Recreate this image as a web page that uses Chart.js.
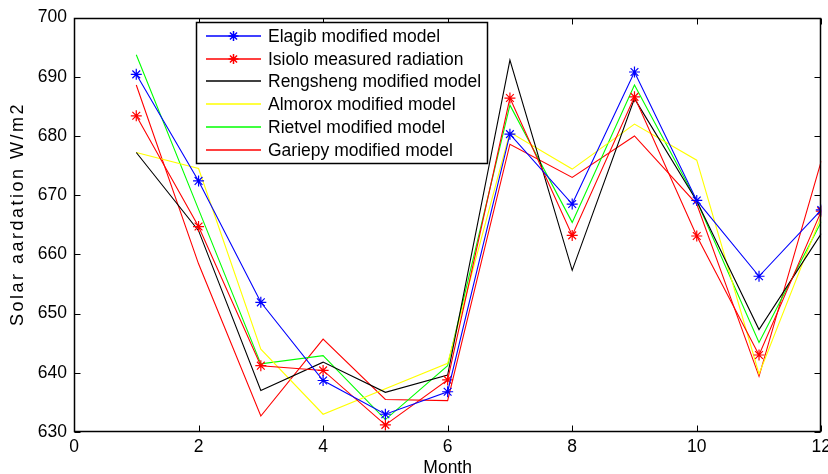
<!DOCTYPE html>
<html>
<head>
<meta charset="utf-8">
<script src="https://cdn.jsdelivr.net/npm/chart.js@4"></script>
<style>
  html, body { margin: 0; padding: 0; background: #fff; }
  #wrap { width: 828px; height: 474px; }
</style>
</head>
<body>
<div id="wrap"><canvas id="chart" width="828" height="474"></canvas></div>
<script>
// ====================== Data ======================
const MONTHS = [1, 2, 3, 4, 5, 6, 7, 8, 9, 10, 11, 12];

const ELAGIB    = [690.4, 672.4, 651.9, 638.7, 633.0, 636.8, 680.3, 668.5, 690.8, 669.1, 656.3, 667.5];
const ISIOLO    = [683.4, 664.7, 641.2, 640.4, 631.2, 638.8, 686.4, 663.2, 686.6, 663.1, 643.0, 667.3];
const RENGSHENG = [677.2, 664.0, 637.0, 641.8, 636.7, 639.6, 692.8, 657.3, 686.3, 669.0, 647.3, 663.5];
const ALMOROX   = [677.2, 674.5, 644.0, 633.0, 637.3, 641.6, 680.6, 674.4, 682.0, 675.9, 639.8, 666.5];
const RIETVEL   = [693.7, 667.6, 641.5, 642.9, 632.1, 641.2, 685.2, 665.4, 688.6, 669.0, 645.1, 665.5];
const GARIEPY   = [688.6, 658.4, 632.7, 645.7, 635.5, 635.3, 678.6, 673.0, 680.0, 668.5, 639.4, 675.8];

const SERIES_LABELS = [
  "Elagib modified model",
  "Isiolo measured radiation",
  "Rengsheng modified model",
  "Almorox modified model",
  "Rietvel modified model",
  "Gariepy modified model"
];

const X_TICKS = [0, 2, 4, 6, 8, 10, 12];
const Y_TICKS = [630, 640, 650, 660, 670, 680, 690, 700];
const X_TITLE = "Month";
const Y_TITLE = "Solar aardation W/m2";

const FONT = "'Liberation Sans', Arial, sans-serif";

// ====================== Helpers ======================
function toPoints(values) {
  return MONTHS.map((m, i) => ({ x: m, y: values[i] }));
}

function series(label, values, color, marker) {
  return {
    label,
    data: toPoints(values),
    borderColor: color,
    backgroundColor: color,
    borderWidth: 1.1,
    pointStyle: "star",
    pointRadius: marker ? 5.5 : 0,
    pointBorderWidth: 1.2,
    pointBorderColor: color,
    tension: 0,
    fill: false
  };
}

// ── frame with inward ticks on all four sides ──
const framePlugin = {
  id: "frame",
  afterDatasetsDraw(chart) {
    const { ctx, chartArea: a, scales } = chart;
    const L = Math.round(a.left) + 0.5, R = Math.round(a.right) - 0.5;
    const T = Math.round(a.top) + 0.5, B = Math.round(a.bottom) - 0.5;
    ctx.save();
    ctx.strokeStyle = "#000";
    ctx.lineWidth = 1;
    ctx.beginPath();
    X_TICKS.forEach(v => {
      const px = Math.round(scales.x.getPixelForValue(v)) + 0.5;
      ctx.moveTo(px, B); ctx.lineTo(px, B - 6);
      ctx.moveTo(px, T); ctx.lineTo(px, T + 6);
    });
    Y_TICKS.forEach(v => {
      const py = Math.round(scales.y.getPixelForValue(v)) + 0.5;
      ctx.moveTo(L, py); ctx.lineTo(L + 6, py);
      ctx.moveTo(R, py); ctx.lineTo(R - 6, py);
    });
    ctx.stroke();
    ctx.lineWidth = 1.5;
    ctx.strokeRect(L, T, R - L, B - T);
    ctx.restore();
  }
};

// ── MATLAB style legend box inside the plot ──
const boxLegendPlugin = {
  id: "boxLegend",
  afterDraw(chart) {
    const { ctx } = chart;
    const box = { x: 196.5, y: 22.5, w: 291, h: 141 };
    ctx.save();
    ctx.fillStyle = "#fff";
    ctx.fillRect(box.x, box.y, box.w, box.h);
    ctx.strokeStyle = "#000";
    ctx.lineWidth = 1.5;
    ctx.strokeRect(box.x, box.y, box.w, box.h);
    ctx.font = "17.5px " + FONT;
    ctx.textBaseline = "middle";
    chart.data.datasets.forEach((ds, i) => {
      const y = Math.round(36 + i * 22.7);
      ctx.strokeStyle = ds.borderColor;
      ctx.lineWidth = 1.5;
      ctx.beginPath();
      ctx.moveTo(206, y); ctx.lineTo(261, y);
      ctx.stroke();
      if (ds.pointRadius > 0) {
        Chart.helpers.drawPoint(ctx, {
          pointStyle: "star", radius: 5, borderWidth: 1
        }, 233.5, y);
      }
      ctx.fillStyle = "#000";
      ctx.fillText(ds.label, 268, y + 1);
    });
    ctx.restore();
  }
};

// ── rotated y axis title (MATLAB spreads the rotated glyphs) ──
const yTitlePlugin = {
  id: "yTitle",
  afterDraw(chart) {
    const ctx = chart.ctx;
    ctx.save();
    ctx.translate(18, 214);
    ctx.rotate(-Math.PI / 2);
    ctx.font = "18px " + FONT;
    ctx.letterSpacing = "2.5px";
    ctx.textAlign = "center";
    ctx.textBaseline = "middle";
    ctx.fillStyle = "#000";
    ctx.fillText(Y_TITLE, 0, 0);
    ctx.restore();
  }
};

// ====================== Chart ======================
Chart.defaults.font.family = FONT;
Chart.defaults.color = "#000";

new Chart(document.getElementById("chart"), {
  type: "line",
  data: {
    datasets: [
      series(SERIES_LABELS[0], ELAGIB, "#0000ff", true),
      series(SERIES_LABELS[1], ISIOLO, "#ff0000", true),
      series(SERIES_LABELS[2], RENGSHENG, "#000000", false),
      series(SERIES_LABELS[3], ALMOROX, "#ffff00", false),
      series(SERIES_LABELS[4], RIETVEL, "#00ff00", false),
      series(SERIES_LABELS[5], GARIEPY, "#ff0000", false)
    ]
  },
  options: {
    responsive: false,
    animation: false,
    devicePixelRatio: 1,
    layout: { padding: { top: 16, right: 6, left: 0, bottom: 0 } },
    plugins: { legend: { display: false }, tooltip: { enabled: false } },
    scales: {
      x: {
        type: "linear",
        min: 0, max: 12,
        afterBuildTicks: s => { s.ticks = X_TICKS.map(v => ({ value: v })); },
        afterFit: s => { s.height = 42; s.paddingRight = 0; s.paddingLeft = 0; },
        grid: { display: false, drawTicks: false },
        border: { display: false },
        ticks: { font: { size: 17.5 }, padding: 5, maxRotation: 0 },
        title: { display: true, text: X_TITLE, font: { size: 17.5, lineHeight: 1 }, padding: { top: 0, bottom: -3 } }
      },
      y: {
        min: 630, max: 700,
        afterBuildTicks: s => { s.ticks = Y_TICKS.map(v => ({ value: v })); },
        afterFit: s => { s.width = 74; },
        grid: { display: false, drawTicks: false },
        border: { display: false },
        ticks: { font: { size: 17.5 }, padding: 7 },
        title: { display: false }
      }
    }
  },
  plugins: [framePlugin, boxLegendPlugin, yTitlePlugin]
});
</script>
</body>
</html>
